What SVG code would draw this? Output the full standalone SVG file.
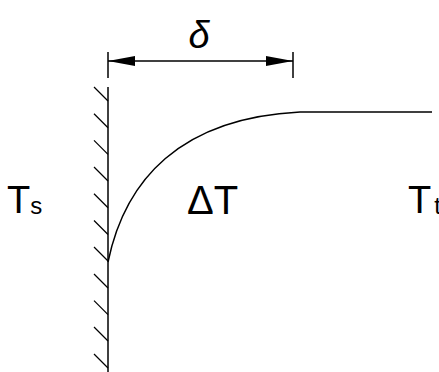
<svg xmlns="http://www.w3.org/2000/svg" width="439" height="372" viewBox="0 0 439 372">
<defs>
<style>
.ln{stroke:#000;stroke-width:1.5;fill:none}
.h{stroke:#000;stroke-width:1.3}
.t{font-family:"Liberation Sans",Arial,sans-serif;fill:#000}
</style>
<marker id="ah" markerWidth="27" markerHeight="10" refX="27" refY="5" orient="auto-start-reverse" markerUnits="userSpaceOnUse">
<path d="M0,0 L27,5 L0,10 Z" fill="#000"/>
</marker>
</defs>
<rect width="439" height="372" fill="#fff"/>
<g id="wall">
<line class="ln" x1="108" y1="87" x2="108" y2="372"/>
<g class="h">
<line x1="94" y1="87" x2="108" y2="101"/>
<line x1="94" y1="113.7" x2="108" y2="127.7"/>
<line x1="94" y1="140.4" x2="108" y2="154.4"/>
<line x1="94" y1="167" x2="108" y2="181"/>
<line x1="94" y1="193.8" x2="108" y2="207.8"/>
<line x1="94" y1="220.5" x2="108" y2="234.5"/>
<line x1="94" y1="247" x2="108" y2="261"/>
<line x1="94" y1="274" x2="108" y2="288"/>
<line x1="94" y1="300.6" x2="108" y2="314.6"/>
<line x1="94" y1="327" x2="108" y2="341"/>
<line x1="94" y1="354" x2="108" y2="368"/>
</g>
</g>
<g id="profile">
<path class="ln" d="M108,262 C125,180 180,118 300,112 L432,112"/>
</g>
<g id="connectors">
<line class="ln" x1="108" y1="52" x2="108" y2="78"/>
<line class="ln" x1="293" y1="52" x2="293" y2="78"/>
<line class="ln" x1="108" y1="61" x2="293" y2="61" marker-start="url(#ah)" marker-end="url(#ah)"/>
</g>
<g id="delta">
<text class="t" x="199" y="48" font-size="38" text-anchor="middle" font-family="'Liberation Serif',serif" font-style="italic">δ</text>
</g>
<g id="Ts">
<text class="t" x="7" y="213" font-size="38">T<tspan font-size="24" dy="1">s</tspan></text>
</g>
<g id="dT">
<text class="t" x="187" y="214" font-size="40">ΔT</text>
</g>
<g id="Tt">
<text class="t" x="408" y="213" font-size="38">T<tspan font-size="24" dy="1" dx="3">t</tspan></text>
</g>
</svg>
